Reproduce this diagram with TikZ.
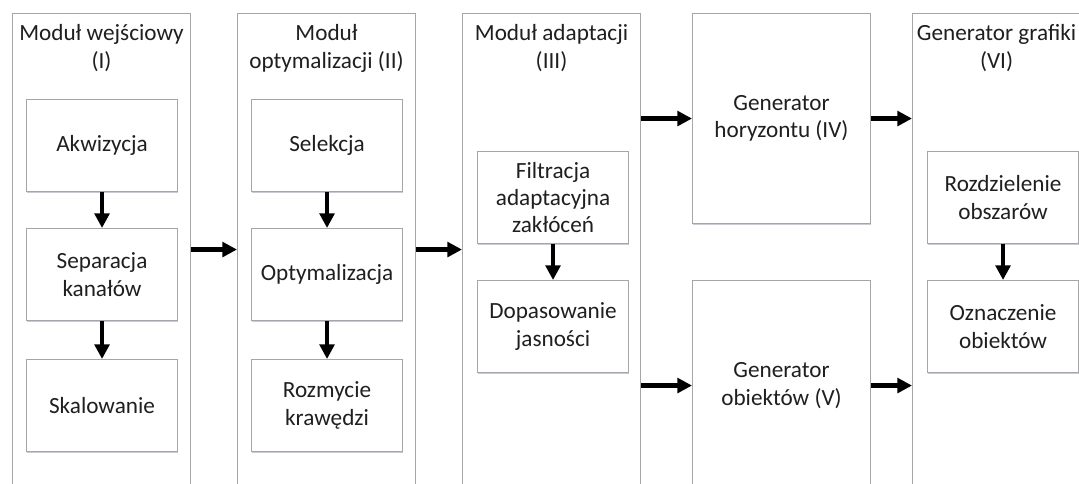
\documentclass[tikz,border=0pt]{standalone}
\usepackage{fontspec}
\setmainfont{Carlito}
\usetikzlibrary{arrows.meta,shadows}
\begin{document}
\begin{tikzpicture}[x=0.75pt,y=-0.75pt,
  every node/.style={font=\fontsize{17.4pt}{20.5pt}\selectfont, text=black!88},
  boxstyle/.style={draw=black!35, line width=0.8pt, fill=white, rectangle, inner sep=0pt, anchor=north west, align=center,
    drop shadow={shadow xshift=0.7pt, shadow yshift=-0.9pt, fill=blue!20!gray, opacity=0.35}},
  modtitle/.style={anchor=north, inner sep=0pt, align=center},
  arr/.style={line width=3.2pt, -{Triangle[length=11pt,width=11pt]}}
]
\useasboundingbox (0,0) rectangle (1079,483);
\clip (0,0) rectangle (1079,483);

% modules
\node[boxstyle, minimum width=178*0.75pt, minimum height=472*0.75pt] (m1) at (12,13) {};
\node[boxstyle, minimum width=178*0.75pt, minimum height=472*0.75pt] (m2) at (237,13) {};
\node[boxstyle, minimum width=178*0.75pt, minimum height=472*0.75pt] (m3) at (462,13) {};
\node[boxstyle, minimum width=178*0.75pt, minimum height=210*0.75pt] (g4) at (692,13) {Generator\\horyzontu (IV)};
\node[boxstyle, minimum width=178*0.75pt, minimum height=210*0.75pt] (g5) at (692,280) {Generator\\obiektów (V)};
\node[boxstyle, minimum width=178*0.75pt, minimum height=472*0.75pt] (m6) at (912,13) {};

% titles
\node[modtitle] (t1) at ([yshift=-11.5*0.75pt]m1.north) {Moduł wejściowy\\(I)};
\node[modtitle] (t2) at ([yshift=-11.5*0.75pt]m2.north) {Moduł\\optymalizacji (II)};
\node[modtitle] (t3) at ([yshift=-11.5*0.75pt]m3.north) {Moduł adaptacji\\(III)};
\node[modtitle] (t6) at ([yshift=-11.5*0.75pt, xshift=-5*0.75pt]m6.north) {Generator grafiki\\(VI)};

% inner boxes
\tikzset{inner/.style={boxstyle, minimum width=151*0.75pt, minimum height=92*0.75pt}}
\node[inner] (a1) at (26,99) {Akwizycja};
\node[inner] (a2) at (26,228) {Separacja\\kanałów};
\node[inner] (a3) at (26,359) {Skalowanie};
\node[inner] (b1) at (251,99) {Selekcja};
\node[inner] (b2) at (251,228) {Optymalizacja};
\node[inner] (b3) at (251,359) {Rozmycie\\krawędzi};
\node[inner] (c1) at (477,151) {Filtracja\\adaptacyjna\\zakłóceń};
\node[inner] (c2) at (477,280) {Dopasowanie\\jasności};
\node[inner] (d1) at (927,151) {Rozdzielenie\\obszarów};
\node[inner] (d2) at (927,280) {Oznaczenie\\obiektów};

% arrows
\draw[arr] (a1.south) -- (a2.north);
\draw[arr] (a2.south) -- (a3.north);
\draw[arr] (b1.south) -- (b2.north);
\draw[arr] (b2.south) -- (b3.north);
\draw[arr] (c1.south) -- (c2.north);
\draw[arr] (d1.south) -- (d2.north);
\draw[arr] (m1.east) -- (m2.west);
\draw[arr] (m2.east) -- (m3.west);
\draw[arr] (m3.east |- g4.west) -- (g4.west);
\draw[arr] (m3.east |- g5.west) -- (g5.west);
\draw[arr] (g4.east) -- (m6.west |- g4.east);
\draw[arr] (g5.east) -- (m6.west |- g5.east);
\end{tikzpicture}
\end{document}
